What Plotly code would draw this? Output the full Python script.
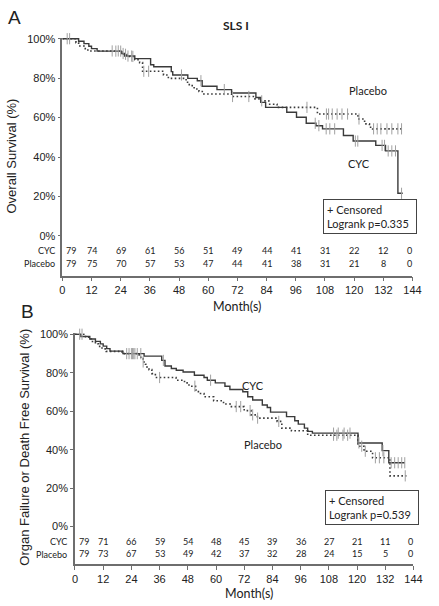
import numpy as np
import plotly.graph_objects as go

# ---------------- DATA ----------------
month_ticks = [0, 12, 24, 36, 48, 60, 72, 84, 96, 108, 120, 132, 144]
pct_ticks = [0, 20, 40, 60, 80, 100]
pct_labels = ["0%", "20%", "40%", "60%", "80%", "100%"]

# Panel A: Overall survival (SLS I)
a_cyc_t = [0, 6.7, 8.9, 10.9, 12.0, 14.3, 24.3, 25.6, 29.8, 36.3, 37.6, 44.8, 45.4, 51.6, 55.5, 57.5,
           63.6, 69.6, 79.6, 81.6, 83.6, 92.3, 96.3, 100.3, 104.3, 107.0, 115.6, 119.6, 128.9, 132.9,
           138.0, 140.0]
a_cyc_s = [100, 98.7, 97.5, 96.2, 95.0, 93.7, 92.5, 91.2, 89.9, 86.8, 85.8, 83.3, 81.6, 79.9, 78.7, 75.9,
           74.2, 72.5, 70.2, 67.7, 65.2, 62.7, 60.2, 57.1, 55.9, 54.3, 50.9, 48.1, 45.9, 43.1,
           21.6, 21.6]
a_pla_t = [0, 5.6, 6.7, 8.9, 10.5, 24.5, 26.5, 29.8, 31.8, 33.0, 41.6, 43.6, 50.9, 52.2, 54.2, 56.2,
           58.2, 69.6, 78.9, 81.6, 84.9, 88.3, 104.9, 121.6, 124.3, 126.3, 127.6, 140.3]
a_pla_s = [100, 98.0, 96.3, 95.0, 93.8, 92.1, 91.0, 89.3, 87.9, 83.5, 81.6, 79.9, 77.9, 76.2, 74.5, 73.2,
           72.0, 70.7, 69.5, 68.5, 66.8, 65.2, 61.8, 59.3, 56.8, 55.1, 54.3, 54.3]
a_cyc_cens = [2.0, 22.0, 24.0, 25.0, 27.0, 28.5, 49.0, 57.0, 66.6, 104.0, 105.5, 108.5, 110.0, 112.0,
              120.5, 121.5, 131.5, 132.5, 134.0, 135.5, 137.0, 139.5]
a_pla_cens = [3.0, 20.5, 23.0, 26.0, 29.0, 33.5, 35.5, 70.0, 76.7, 82.0, 100.6, 108.6, 109.5, 111.0,
              113.0, 115.0, 117.3, 122.0, 128.0, 129.5, 131.0, 133.5, 135.5, 138.0, 139.5]
a_risk_cyc = [79, 74, 69, 61, 56, 51, 49, 44, 41, 31, 22, 12, 0]
a_risk_pla = [79, 75, 70, 57, 53, 47, 44, 41, 38, 31, 21, 8, 0]

# Panel B: Organ failure or death free survival
b_cyc_t = [0, 2.5, 6.3, 8.7, 10.8, 12.0, 13.5, 14.9, 20.4, 29.4, 36.9, 38.3, 41.0, 43.1, 46.0, 50.8,
           54.9, 56.3, 59.7, 63.8, 65.9, 71.4, 73.5, 75.6, 79.7, 81.8, 83.2, 90.0, 93.5, 95.0, 97.6,
           99.0, 101.0, 120.4, 130.7, 133.5, 140.3]
b_cyc_s = [100, 98.8, 97.5, 96.3, 95.0, 93.8, 92.5, 91.2, 89.9, 88.6, 86.4, 83.5, 82.2, 81.3, 80.4, 78.7,
           77.5, 76.1, 74.7, 73.0, 71.3, 70.1, 67.5, 65.8, 63.2, 61.9, 59.5, 57.2, 55.0, 53.3, 51.2,
           49.5, 48.6, 43.5, 39.5, 33.2, 33.2]
b_pla_t = [0, 4.5, 5.9, 7.0, 8.7, 10.0, 11.5, 13.3, 20.0, 27.3, 28.0, 29.0, 30.0, 30.6, 31.5, 32.7,
           34.2, 43.0, 46.6, 48.5, 51.3, 52.5, 54.9, 59.0, 63.2, 66.0, 72.0, 74.9, 77.6, 86.0, 88.0,
           92.1, 99.0, 120.4, 123.0, 126.6, 134.0, 141.0]
b_pla_s = [100, 98.7, 97.5, 96.2, 95.0, 93.7, 92.4, 91.1, 89.9, 88.6, 87.3, 85.6, 84.4, 83.0, 81.6, 79.5,
           77.5, 76.1, 74.7, 73.0, 71.0, 69.2, 67.5, 65.4, 63.7, 62.4, 60.3, 58.1, 56.4, 54.7, 51.2,
           49.8, 47.5, 41.8, 39.2, 35.8, 26.4, 26.4]
b_cyc_cens = [2.0, 22.0, 24.0, 25.0, 26.5, 28.0, 37.6, 57.7, 110.0, 112.0, 114.5, 117.0, 120.8, 131.0,
              134.5, 136.0, 137.5, 139.0, 140.3]
b_pla_cens = [3.0, 23.0, 24.5, 25.5, 29.0, 36.0, 51.0, 68.6, 70.5, 74.5, 75.6, 77.7, 86.7, 110.0,
              111.4, 114.0, 116.0, 122.0, 123.5, 127.8, 129.5, 131.4, 140.5]
b_risk_cyc = [79, 71, 66, 59, 54, 48, 45, 39, 36, 27, 21, 11, 0]
b_risk_pla = [79, 73, 67, 53, 49, 42, 37, 32, 28, 24, 15, 5, 0]

groups = ["CYC", "Placebo"]

# ---------------- FIGURE ----------------
W, H = 439, 606
def px(x):
    return x / W
def py(y):
    return 1 - y / H

LINE = "#3a3a3a"
AX = "#6e6e6e"
CENS = "#a0a0a0"
TXT = "#222222"

def step_val(t, s, c):
    i = np.searchsorted(np.array(t), c, side="right") - 1
    return np.array(s)[i]

fig = go.Figure()

panels = [
    dict(x="x", y="y", ct=a_cyc_t, cs=a_cyc_s, pt=a_pla_t, ps=a_pla_s, cc=a_cyc_cens, pc=a_pla_cens),
    dict(x="x2", y="y2", ct=b_cyc_t, cs=b_cyc_s, pt=b_pla_t, ps=b_pla_s, cc=b_cyc_cens, pc=b_pla_cens),
]
for p in panels:
    fig.add_trace(go.Scatter(x=p["pt"], y=p["ps"], mode="lines", line_shape="hv",
                             line=dict(color=LINE, width=1.6, dash="1.6px,2.4px"),
                             xaxis=p["x"], yaxis=p["y"], showlegend=False))
    fig.add_trace(go.Scatter(x=p["ct"], y=p["cs"], mode="lines", line_shape="hv",
                             line=dict(color=LINE, width=1.4),
                             xaxis=p["x"], yaxis=p["y"], showlegend=False))
    for t, s, c in [(p["ct"], p["cs"], p["cc"]), (p["pt"], p["ps"], p["pc"])]:
        fig.add_trace(go.Scatter(x=c, y=[step_val(t, s, v) for v in c], mode="markers",
                                 marker=dict(symbol="line-ns-open", size=8, color=CENS,
                                             line=dict(color=CENS, width=1)),
                                 xaxis=p["x"], yaxis=p["y"], showlegend=False, cliponaxis=False))

# at-risk numbers via data coordinates
risk_rows = [("x", "y", a_risk_cyc, a_risk_pla), ("x2", "y2", b_risk_cyc, b_risk_pla)]
annotations = []
for xa, ya, rc, rp in risk_rows:
    for vals, yv in [(rc, -7.5), (rp, -14.0)]:
        for i, (m, v) in enumerate(zip(month_ticks, vals)):
            shift = 9 if i == 0 else (-3 if i == len(vals) - 1 else 0)
            annotations.append(dict(x=m, y=yv, xref=xa, yref=ya, text=str(v), showarrow=False,
                                    xshift=shift, xanchor="center", yanchor="middle",
                                    font=dict(family="Lato", size=9, color=TXT)))

def ann(x, y, text, size=11, family="Lato", xanchor="center", **kw):
    d = dict(x=px(x), y=py(y), xref="paper", yref="paper", text=text, showarrow=False,
             xanchor=xanchor, yanchor="middle",
             font=dict(family=family, size=size, color=TXT))
    d.update(kw)
    annotations.append(d)

# row labels
for xr, ycy, ypl in [(56, 248, 261), (68, 541, 554)]:
    ann(xr, ycy, groups[0], size=9, xanchor="right")
    ann(xr, ypl, groups[1], size=9, xanchor="right")

ann(12, 13, "A", size=19, family="Liberation Sans")
ann(25, 309, "B", size=19, family="Liberation Sans")
ann(240, 21, "<b>SLS I</b>", size=12)
ann(375, 86, "Placebo", size=11)
ann(366, 160, "CYC", size=11)
ann(257, 384, "CYC", size=11)
ann(267, 443, "Placebo", size=11)
ann(241, 304, "Month(s)", size=12.5)
ann(253, 593, "Month(s)", size=12.5)
ann(9, 152, "Overall Survival (%)", size=13, family="Liberation Sans", textangle=-90)
ann(22, 446, "Organ Failure or Death Free Survival (%)", size=13, family="Liberation Sans",
    textangle=-90)
box_kw = dict(align="left", bordercolor="#444444", borderwidth=1, borderpad=3, width=86,
              bgcolor="white")
ann(377, 213.5, "+ Censored<br>Logrank p=0.335", size=11, **box_kw)
ann(379, 507, "+ Censored<br>Logrank p=0.539", size=11, **box_kw)

tickfont = dict(family="Liberation Sans", size=11, color=TXT)
xcommon = dict(range=[0, 144], tickvals=month_ticks, ticks="outside", ticklen=4, tickcolor=AX,
               showline=True, linecolor=AX, linewidth=1.5, showgrid=False, zeroline=False,
               tickfont=tickfont)
ycommon = dict(tickvals=pct_ticks, ticktext=pct_labels, ticks="outside", ticklen=3, tickcolor=AX,
               showline=True, linecolor=AX, linewidth=1.5, showgrid=False, zeroline=False,
               tickfont=tickfont)

fig.update_layout(
    width=W, height=H, autosize=False,
    margin=dict(l=0, r=0, t=0, b=0),
    paper_bgcolor="white", plot_bgcolor="white",
    xaxis=dict(domain=[px(61), px(421)], anchor="y", **xcommon),
    yaxis=dict(domain=[py(272.8), py(33)], range=[-20.1, 100.5], anchor="x", **ycommon),
    xaxis2=dict(domain=[px(74), px(422)], anchor="y2", **xcommon),
    yaxis2=dict(domain=[py(564), py(331)], range=[-19.6, 100.5], anchor="x2", **ycommon),
    annotations=annotations,
    showlegend=False,
)

fig.write_html("out.html", config={"displayModeBar": False},
               post_script="document.body.style.margin='0px';")
